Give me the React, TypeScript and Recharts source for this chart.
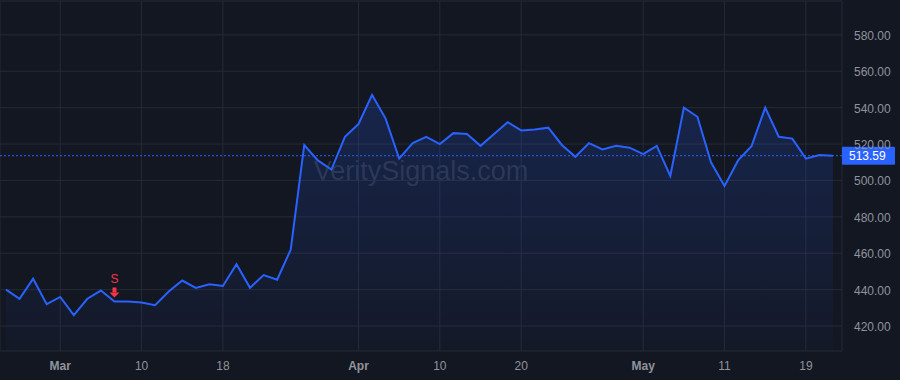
import React from "react";
import {
  ComposedChart,
  Area,
  XAxis,
  YAxis,
  CartesianGrid,
  ReferenceLine,
  ReferenceDot,
} from "recharts";

const dates: string[] = [
  "02-26", "02-27", "02-28", "02-29", "03-01", "03-04", "03-05", "03-06", "03-07", "03-08",
  "03-10", "03-11", "03-12", "03-13", "03-14", "03-15", "03-18", "03-19", "03-20", "03-21",
  "03-22", "03-25", "03-26", "03-27", "03-28", "03-29", "04-01", "04-02", "04-03", "04-04",
  "04-05", "04-08", "04-10", "04-11", "04-12", "04-15", "04-16", "04-17", "04-20", "04-22",
  "04-23", "04-24", "04-25", "04-26", "04-28", "04-29", "04-30", "05-01", "05-02", "05-03",
  "05-06", "05-07", "05-08", "05-11", "05-13", "05-14", "05-15", "05-16", "05-17", "05-19",
  "05-20", "05-21",
];

const prices: number[] = [
  440, 435, 446, 432, 436, 426, 435, 439.5, 433.5, 433.5,
  433, 431.5, 439, 445, 441, 443, 442, 454, 441, 448,
  445.5, 462, 519.5, 511, 506, 524, 531, 547, 534, 512,
  520.5, 524, 520, 526, 525.5, 519, 525.5, 532, 527.5, 528,
  529, 519.5, 513, 520.5, 517, 519, 518, 514.5, 519, 502.5,
  540, 535, 510, 497, 511, 519, 540, 524, 523, 512,
  514, 513.59,
];

const xTicks: string[] = ["03-01", "03-10", "03-18", "04-01", "04-10", "04-20", "05-01", "05-11", "05-19"];
const xTickLabels: string[] = ["Mar", "10", "18", "Apr", "10", "20", "May", "11", "19"];
const monthTicks: string[] = ["Mar", "Apr", "May"];
const yTicks: number[] = [420, 440, 460, 480, 500, 520, 540, 560, 580];

const lastPrice = 513.59;
const signalDate = "03-07";
const signalPrice = 433.5;
const watermark = "VeritySignals.com";

const data = dates.map((d, i) => ({ date: d, price: prices[i] }));

const BG = "#131722";
const GRID = "#252a36";
const TEXT = "#8f939c";
const BLUE = "#2962ff";
const RED = "#f23645";
const FONT = "'Liberation Sans', Arial, sans-serif";

const XTick = (props: any) => {
  const { x, y, payload } = props;
  const idx = xTicks.indexOf(payload.value);
  const label = idx >= 0 ? xTickLabels[idx] : "";
  const bold = monthTicks.includes(label);
  return (
    <text
      x={x}
      y={y + 11}
      textAnchor="middle"
      fill={TEXT}
      fontSize={12}
      fontWeight={bold ? 700 : 400}
      fontFamily={FONT}
    >
      {label}
    </text>
  );
};

const YTick = (props: any) => {
  const { x, y, payload } = props;
  return (
    <text x={x + 10} y={y + 5} textAnchor="start" fill={TEXT} fontSize={12} fontFamily={FONT}>
      {payload.value.toFixed(2)}
    </text>
  );
};

const PriceTag = (props: any) => {
  const vb = props.viewBox || {};
  const x0 = (vb.x || 0) + (vb.width || 0);
  const y = vb.y || 0;
  return (
    <g>
      <rect x={x0} y={y - 9} width={53} height={18} fill={BLUE} rx={1} />
      <text x={x0 + 7} y={y + 4.5} fill="#ffffff" fontSize={12} fontFamily={FONT}>
        {lastPrice.toFixed(2)}
      </text>
    </g>
  );
};

const SignalMark = (props: any) => {
  const { cx, cy } = props;
  if (cx == null || cy == null) return null;
  const tip = cy - 4;
  return (
    <g>
      <text x={cx} y={tip - 14} textAnchor="middle" fill={RED} fontSize={12} fontFamily={FONT}>
        S
      </text>
      <rect x={cx - 2} y={tip - 10} width={4} height={5} fill={RED} />
      <polygon points={`${cx - 5},${tip - 5} ${cx + 5},${tip - 5} ${cx},${tip}`} fill={RED} />
    </g>
  );
};

export default function App() {
  return (
    <div
      style={{
        position: "fixed",
        left: 0,
        top: 0,
        width: 900,
        height: 380,
        background: BG,
        overflow: "hidden",
      }}
    >
      <div
        style={{
          position: "absolute",
          left: 0,
          top: 153,
          width: 842,
          textAlign: "center",
          fontFamily: FONT,
          fontSize: 27,
          color: "rgba(190,195,215,0.16)",
          lineHeight: "36px",
        }}
      >
        {watermark}
      </div>
      <div style={{ position: "absolute", left: 0, top: 0 }}>
        <ComposedChart
          width={900}
          height={380}
          data={data}
          margin={{ top: 1, right: 0, bottom: 0, left: 0 }}
        >
          <defs>
            <linearGradient id="areaFill" x1="0" y1="0" x2="0" y2="1">
              <stop offset="0%" stopColor={BLUE} stopOpacity={0.32} />
              <stop offset="100%" stopColor={BLUE} stopOpacity={0.04} />
            </linearGradient>
          </defs>
          <CartesianGrid stroke={GRID} strokeWidth={1} />
          <XAxis
            dataKey="date"
            ticks={xTicks}
            interval={0}
            height={29}
            axisLine={false}
            tickLine={false}
            tick={<XTick />}
            padding={{ left: 6, right: 9 }}
          />
          <YAxis
            orientation="right"
            width={58}
            domain={[406.3, 598.6]}
            ticks={yTicks}
            allowDataOverflow
            axisLine={false}
            tickLine={false}
            tickSize={0}
            tick={<YTick />}
          />
          <Area
            type="linear"
            dataKey="price"
            stroke={BLUE}
            strokeWidth={2}
            fill="url(#areaFill)"
            baseValue="dataMin"
            isAnimationActive={false}
            dot={false}
            activeDot={false}
          />
          <ReferenceLine
            y={lastPrice}
            stroke={BLUE}
            strokeWidth={1}
            strokeDasharray="2 2"
            label={<PriceTag />}
          />
          <ReferenceDot x={signalDate} y={signalPrice} shape={<SignalMark />} />
        </ComposedChart>
      </div>
    </div>
  );
}
